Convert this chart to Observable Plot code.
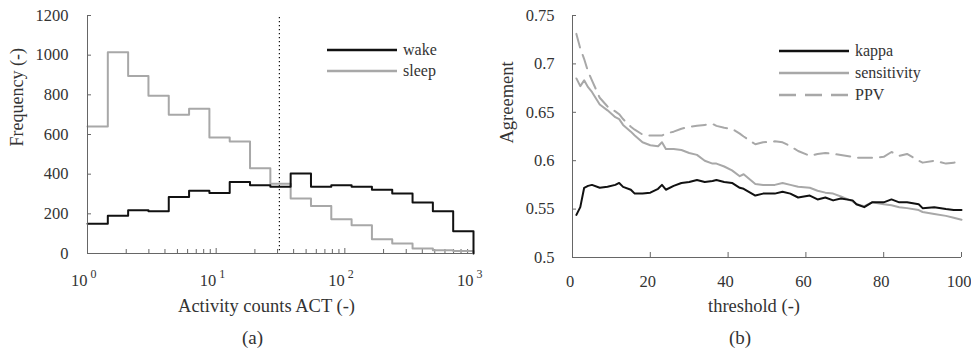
<!DOCTYPE html>
<html><head><meta charset="utf-8">
<script src="https://cdn.jsdelivr.net/npm/d3@7"></script>
<script src="https://cdn.jsdelivr.net/npm/@observablehq/plot@0.6"></script>
<style>
body{margin:0;background:#fff;}
#wrap{position:relative;width:971px;height:356px;font-family:"Liberation Serif","Times New Roman",serif;overflow:hidden;}
#a{position:absolute;left:0;top:0}
#b{position:absolute;left:486px;top:0}
.leg{position:absolute;font-size:16px;color:#333;line-height:16px;white-space:nowrap;}
.leg svg{position:absolute;left:0;top:0;overflow:visible}
</style></head><body>
<div id="wrap"><div id="a"></div><div id="b"></div>
<div class="leg" id="legA" style="left:327px;top:42px;width:120px;height:40px;"></div>
<div class="leg" id="legB" style="left:779px;top:43px;width:150px;height:60px;"></div>
</div>
<script>
// ---- panel (a): histogram of activity counts (log bins) ----
const binEdges = [1, 1.4384, 2.0691, 2.9764, 4.2813, 6.1585, 8.8587, 12.743, 18.330, 26.367,
  37.927, 54.556, 78.476, 112.88, 162.38, 233.57, 335.98, 483.29, 695.19, 1000];
const wakeCounts = [150, 190, 218, 213, 285, 316, 305, 361, 344, 336, 403, 336, 344, 336, 322, 302, 257, 213, 112];
const sleepCounts = [640, 1015, 895, 795, 700, 730, 585, 565, 430, 352, 277, 240, 173, 143, 72, 50, 25, 17, 12];
const actThreshold = 31;
const logTicks = [1, 10, 100, 1000];
const logExponents = ["0", "1", "2", "3"];
const minorTicks = [2,3,4,5,6,7,8,9,20,30,40,50,60,70,80,90,200,300,400,500,600,700,800,900];
const freqTicks = [0, 200, 400, 600, 800, 1000, 1200];
const histSeries = ["wake", "sleep"];

// ---- panel (b): agreement vs threshold ----
const thresholds = [1,2,3,4,5,7,9,11,12,13,15,16,18,20,22,23,24,26,28,30,32,34,36,37,39,41,43,44,47,49,
  52,54,56,58,61,63,65,67,69,72,73,75,77,80,82,84,86,89,90,93,96,98,100];
const kappa = [0.544,0.552,0.572,0.574,0.575,0.572,0.573,0.575,0.577,0.573,0.570,0.566,0.566,0.567,0.571,0.575,0.570,0.574,0.577,0.578,
  0.580,0.578,0.579,0.580,0.578,0.577,0.572,0.571,0.564,0.566,0.566,0.568,0.566,0.562,0.564,0.560,0.562,0.559,0.561,0.559,
  0.555,0.552,0.557,0.557,0.560,0.557,0.557,0.555,0.551,0.552,0.550,0.549,0.549];
const sensitivity = [0.685,0.677,0.683,0.676,0.671,0.658,0.652,0.645,0.643,0.637,0.630,0.626,0.619,0.616,0.615,0.619,0.612,0.612,0.611,0.608,
  0.606,0.600,0.597,0.597,0.594,0.590,0.584,0.586,0.576,0.575,0.575,0.577,0.575,0.573,0.572,0.569,0.567,0.566,0.563,0.558,
  0.555,0.553,0.557,0.555,0.554,0.552,0.551,0.549,0.547,0.545,0.543,0.541,0.539];
const ppv = [0.731,0.716,0.705,0.692,0.683,0.665,0.656,0.651,0.648,0.643,0.635,0.632,0.627,0.626,0.626,0.626,0.628,0.630,0.633,0.635,
  0.636,0.637,0.638,0.636,0.634,0.633,0.628,0.625,0.617,0.619,0.620,0.619,0.615,0.610,0.605,0.607,0.608,0.607,0.606,0.604,
  0.603,0.603,0.603,0.604,0.609,0.605,0.607,0.600,0.598,0.600,0.597,0.598,0.599];
const agreeTicks = [0.5, 0.55, 0.6, 0.65, 0.7, 0.75];
const thrTicks = [0, 20, 40, 60, 80, 100];
const lineSeries = ["kappa", "sensitivity", "PPV"];

const axisColor = "#666";
const textColor = "#333";
const black = "#111";
const gray = "#a8a8a8";
const serif = '"Liberation Serif","Times New Roman",serif';
const fontStyle = {fontFamily: serif, fontSize: "16.5px", color: textColor, background: "transparent"};

function steps(counts) {
  const rows = counts.map((v, i) => ({x: binEdges[i], y: v}));
  rows.push({x: binEdges[binEdges.length - 1], y: 0});
  return rows;
}

// panel a
const aW = 486, aH = 356, aML = 87, aMR = 13, aMT = 15, aMB = 103;
const aPW = aW - aML - aMR, aPH = aH - aMT - aMB;
const plotA = Plot.plot({
  width: aW, height: aH, marginLeft: aML, marginRight: aMR, marginTop: aMT, marginBottom: aMB,
  style: fontStyle,
  x: {type: "log", domain: [1, 1000], label: null},
  y: {domain: [0, 1200], label: null},
  marks: [
    Plot.ruleY(freqTicks, {y: d => d, insetRight: aPW - 4, stroke: axisColor}),
    Plot.ruleX(minorTicks, {x: d => d, insetTop: aPH - 4, stroke: axisColor}),
    Plot.ruleX(logTicks, {x: d => d, insetTop: aPH - 5, stroke: axisColor}),
    Plot.lineY(steps(sleepCounts), {x: "x", y: "y", curve: "step-after", stroke: gray, strokeWidth: 2}),
    Plot.lineY(steps(wakeCounts), {x: "x", y: "y", curve: "step-after", stroke: black, strokeWidth: 2}),
    Plot.ruleX([actThreshold], {stroke: black, strokeWidth: 1.2, strokeDasharray: "1.2,2.8", insetTop: 2}),
    Plot.ruleX([1], {stroke: axisColor}),
    Plot.ruleY([0], {stroke: axisColor}),
    Plot.axisY({ticks: freqTicks, tickSize: 0, tickPadding: 19, label: null, tickFormat: d => String(d), fill: textColor}),
    Plot.axisX({ticks: logTicks, tickSize: 0, tickPadding: 21, label: null, textAnchor: "end", dx: 0, tickFormat: () => "10", fill: textColor}),
    Plot.axisX({ticks: logTicks, tickSize: 0, tickPadding: 15.5, label: null, textAnchor: "start", dx: 3, fontSize: 12, tickFormat: d => logExponents[logTicks.indexOf(d)], fill: textColor}),
    Plot.text(["Frequency (-)"], {frameAnchor: "left", rotate: -90, dx: -70, dy: 12, fontSize: 18, fill: textColor}),
    Plot.text(["Activity counts ACT (-)"], {frameAnchor: "bottom", dx: -14, dy: 58, fontSize: 18.5, fill: textColor}),
    Plot.text(["(a)"], {frameAnchor: "bottom", dx: -28, dy: 90, fontSize: 19, fill: textColor})
  ]
});
document.getElementById("a").appendChild(plotA);

// panel b
const bW = 485, bH = 356, bML = 86, bMR = 10, bMT = 15, bMB = 99;
const bPW = bW - bML - bMR, bPH = bH - bMT - bMB;
const rows = thresholds.map((t, i) => ({t, kappa: kappa[i], sensitivity: sensitivity[i], ppv: ppv[i]}));
const plotB = Plot.plot({
  width: bW, height: bH, marginLeft: bML, marginRight: bMR, marginTop: bMT, marginBottom: bMB,
  style: fontStyle,
  x: {domain: [0, 100], label: null},
  y: {domain: [0.5, 0.75], label: null},
  marks: [
    Plot.ruleY(agreeTicks, {y: d => d, insetRight: bPW - 4, stroke: axisColor}),
    Plot.ruleX(thrTicks, {x: d => d, insetTop: bPH - 5, stroke: axisColor}),
    Plot.lineY(rows, {x: "t", y: "ppv", stroke: gray, strokeWidth: 2, strokeDasharray: "14,8"}),
    Plot.lineY(rows, {x: "t", y: "sensitivity", stroke: gray, strokeWidth: 2}),
    Plot.lineY(rows, {x: "t", y: "kappa", stroke: black, strokeWidth: 2}),
    Plot.ruleX([0], {stroke: axisColor}),
    Plot.ruleY([0.5], {stroke: axisColor}),
    Plot.axisY({ticks: agreeTicks, tickSize: 0, tickPadding: 18, label: null, tickFormat: d => String(+d.toFixed(2)), fill: textColor}),
    Plot.axisX({ticks: thrTicks, tickSize: 0, tickPadding: 17.5, dx: -2.5, label: null, fill: textColor}),
    Plot.text(["Agreement"], {frameAnchor: "left", rotate: -90, dx: -65, dy: 7, fontSize: 18.5, fill: textColor}),
    Plot.text(["threshold (-)"], {frameAnchor: "bottom", dx: -13, dy: 54, fontSize: 18.5, fill: textColor}),
    Plot.text(["(b)"], {frameAnchor: "bottom", dx: -27, dy: 86, fontSize: 19, fill: textColor})
  ]
});
document.getElementById("b").appendChild(plotB);

// legends
function legend(el, names, styles, gap) {
  const w = 70;
  let html = `<svg width="${w}" height="${names.length * gap}">`;
  names.forEach((n, i) => {
    const y = 8 + i * gap;
    html += `<line x1="0" x2="${w}" y1="${y}" y2="${y}" stroke="${styles[i].stroke}" stroke-width="2.5" ${styles[i].dash ? `stroke-dasharray="${styles[i].dash}"` : ""}/>`;
  });
  html += `</svg>`;
  names.forEach((n, i) => {
    html += `<div style="position:absolute;left:${w + 6}px;top:${i * gap}px">${n}</div>`;
  });
  el.innerHTML = html;
}
legend(document.getElementById("legA"), histSeries, [{stroke: black}, {stroke: gray}], 21);
legend(document.getElementById("legB"), lineSeries, [{stroke: black}, {stroke: gray}, {stroke: gray, dash: "17,9"}], 22);
</script>
</body></html>
